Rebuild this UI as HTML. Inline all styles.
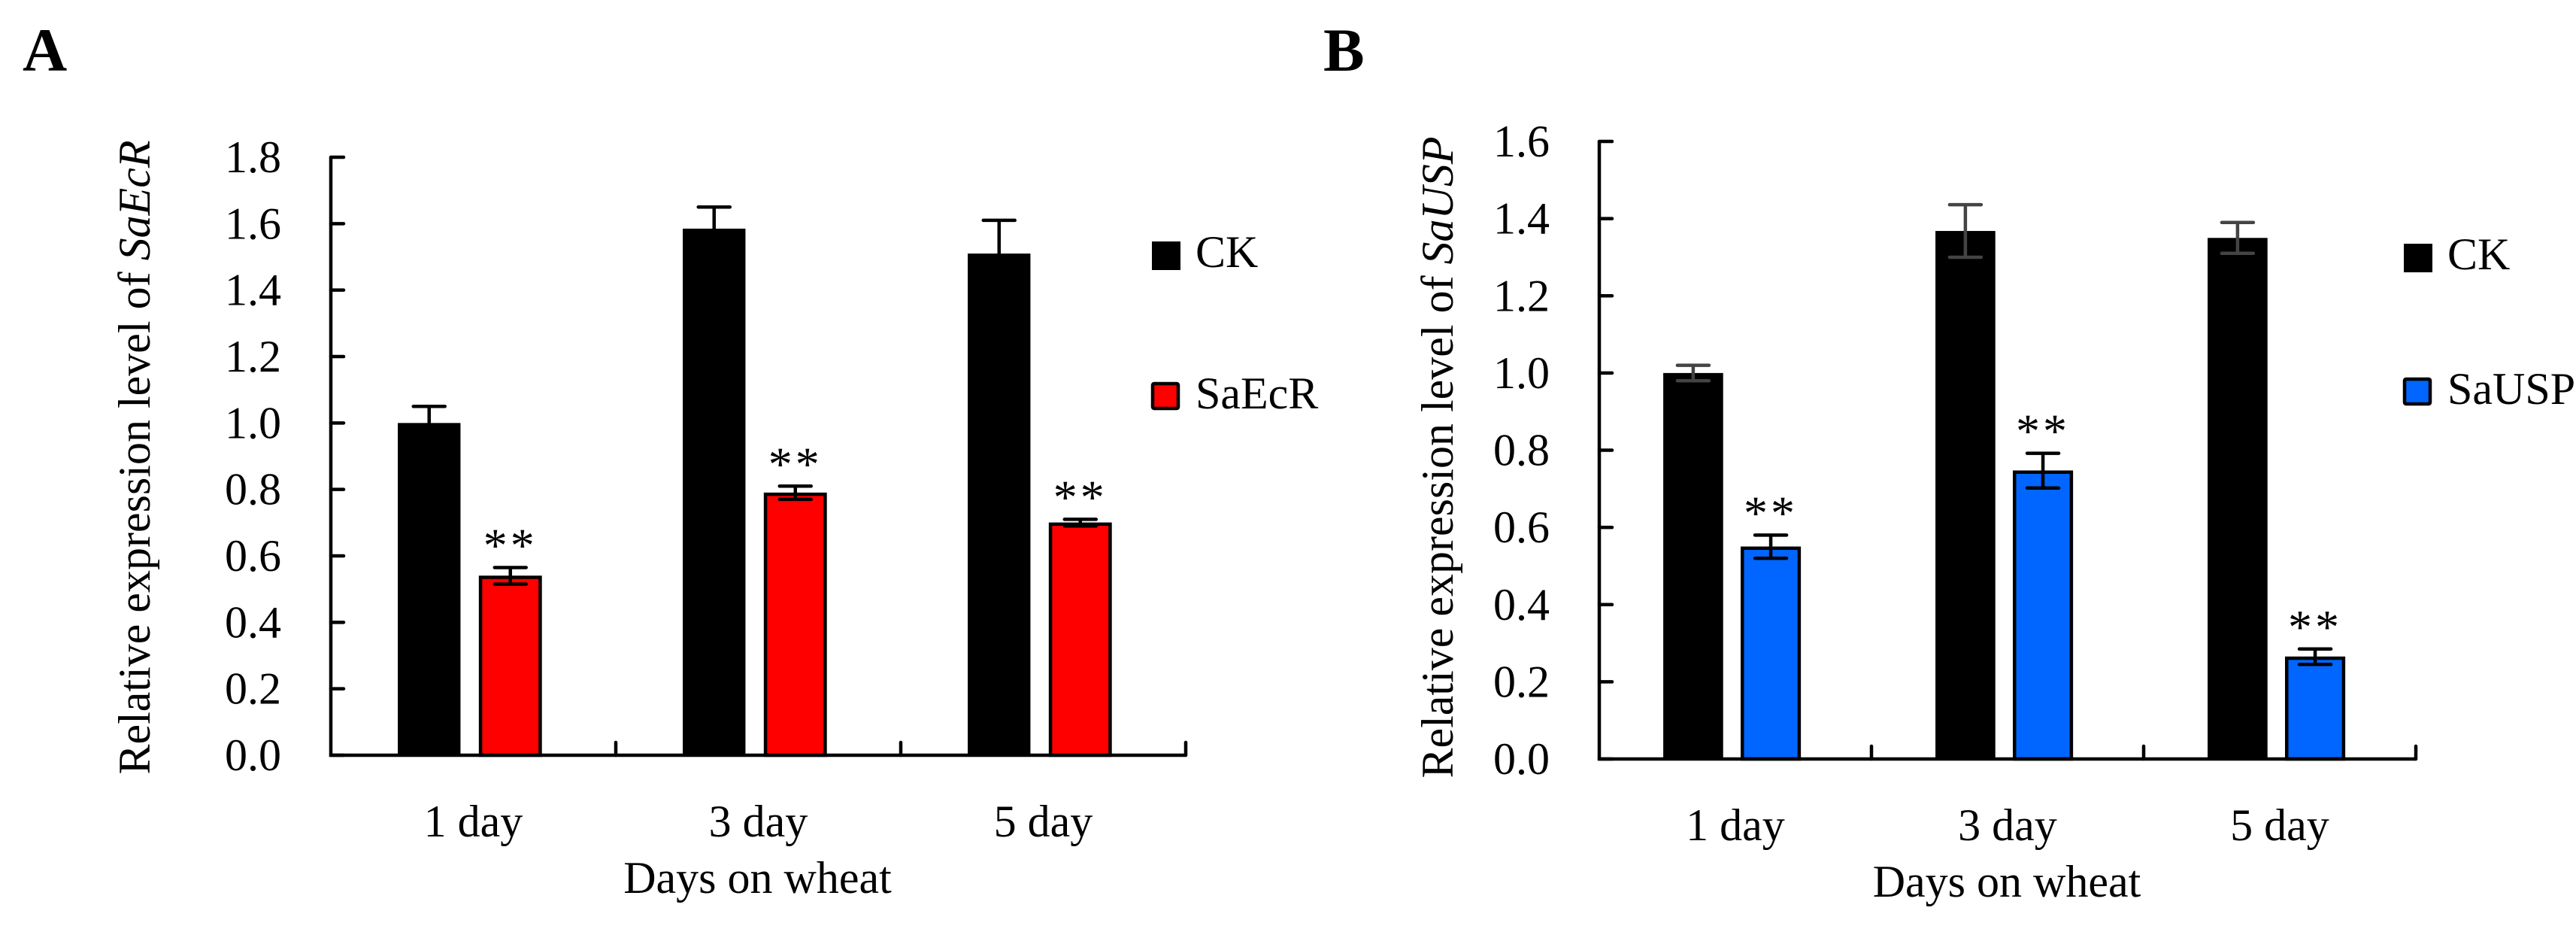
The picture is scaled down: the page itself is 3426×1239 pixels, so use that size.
<!DOCTYPE html>
<html><head><meta charset="utf-8"><style>
html,body{margin:0;padding:0;background:#fff;}
svg{display:block;}
text,tspan{font-family:"Liberation Serif","Times New Roman",serif;}
</style></head><body>
<svg id="fig" width="3426" height="1239" viewBox="0 0 3426 1239" xmlns="http://www.w3.org/2000/svg" font-family="Liberation Serif, serif">
<rect width="3426" height="1239" fill="#fff"/>
<g id="panelA"></g>
<g id="panelB"></g>
</svg>
<script>
const categories = ["1 day", "3 day", "5 day"];
const ckA = [1.0, 1.585, 1.51];
const ckErrA = [0.05, 0.065, 0.10];
const ecrA = [0.54, 0.79, 0.70];
const ecrErrA = [0.025, 0.02, 0.01];
const ticksA = ["0.0","0.2","0.4","0.6","0.8","1.0","1.2","1.4","1.6","1.8"];
const ckB = [1.0, 1.368, 1.35];
const ckErrB = [0.02, 0.068, 0.04];
const uspB = [0.55, 0.747, 0.265];
const uspErrB = [0.03, 0.045, 0.02];
const ticksB = ["0.0","0.2","0.4","0.6","0.8","1.0","1.2","1.4","1.6"];

const NS = "http://www.w3.org/2000/svg";
const FF = "Liberation Serif, Times New Roman, serif";
function mk(parent, tag, attrs, text){
  const e = document.createElementNS(NS, tag);
  for (const k in attrs) e.setAttribute(k, attrs[k]);
  if (tag === "text" || tag === "tspan") e.setAttribute("font-family", FF);
  if (text !== undefined) e.textContent = text;
  parent.appendChild(e);
  return e;
}

function panel(g, cfg){
  const {x0, x1, y0, yTop, ymax, ticks, ck, ckErr, tr, trErr, trColor, ckErrColor, ckTwoSided, gene, letter, letterX, titleX, ofSpace, legX, legY1, legY2, trName} = cfg;
  const ys = v => y0 - (v / ymax) * (y0 - yTop);
  const gw = (x1 - x0) / categories.length;
  const bx = (i, off) => x0 + i * gw + off * gw;
  const bw = 0.22 * gw;

  let t = mk(g, "text", {x: letterX, y: 94, "font-size": 82, "font-weight": "bold"}, letter);
  
  

  t = mk(g, "text", {x: 0, y: 0, "font-size": 60, "text-anchor": "middle", transform: `translate(${titleX},608) rotate(-90)`});
  
  
  mk(t, "tspan", {}, "Relative expression level of" + ofSpace);
  mk(t, "tspan", {"font-style": "italic"}, gene);

  ticks.forEach(lbl => {
    const v = parseFloat(lbl);
    const y = ys(v);
    const tk = mk(g, "line", {x1: x0, x2: x0 + 17, y1: y, y2: y, stroke: "#000", "stroke-width": 4.5, "stroke-linecap": "round"});
    
    
    const tl = mk(g, "text", {x: x0 - 66, y: y + 20, "font-size": 60, "text-anchor": "end"}, lbl);
    
    
  });

  categories.forEach((c, i) => {
    const cx = bx(i, 0.235);
    const ctop = ys(ck[i]);
    const r1 = mk(g, "rect", {x: cx, y: ctop, width: bw, height: y0 - ctop, fill: "#000"});
    
    
    const cm = cx + bw / 2;
    const eTop = ys(ck[i] + ckErr[i]);
    const eBot = ys(ck[i] - ckErr[i]);
    const e1 = mk(g, "path", {d: ckTwoSided ? `M${cm},${eTop}V${eBot}M${cm-21},${eTop}H${cm+21}M${cm-21},${eBot}H${cm+21}` : `M${cm},${eTop}V${ctop}M${cm-21},${eTop}H${cm+21}`, stroke: ckErrColor, "stroke-width": 4.5, "stroke-linecap": "round", fill: "none"});
    
    

    const tx = bx(i, 0.52);
    const ttop = ys(tr[i]);
    const r2 = mk(g, "rect", {x: tx + 2, y: ttop + 2, width: bw - 4, height: y0 - ttop - 2, fill: trColor, stroke: "#000", "stroke-width": 4.5});
    
    
    const tm = tx + bw / 2;
    const tTop = ys(tr[i] + trErr[i]);
    const tBot = ys(tr[i] - trErr[i]);
    const e2 = mk(g, "path", {d: `M${tm},${tTop}V${tBot}M${tm-21},${tTop}H${tm+21}M${tm-21},${tBot}H${tm+21}`, stroke: "#000", "stroke-width": 4.5, "stroke-linecap": "round", fill: "none"});
    
    
    const st = mk(g, "text", {x: tm, y: tTop - 8, "font-size": 64, "text-anchor": "middle", "letter-spacing": 4}, "**");
    
    

    const cl = mk(g, "text", {x: x0 + (i + 0.5) * gw, y: y0 + 108, "font-size": 60, "text-anchor": "middle"}, c);
    
    
    const sx = x0 + (i + 1) * gw;
    const sep = mk(g, "line", {x1: sx, x2: sx, y1: y0, y2: y0 - 17, stroke: "#000", "stroke-width": 4.5, "stroke-linecap": "round"});
    
    
  });

  const ax = mk(g, "path", {d: `M${x0},${yTop}V${y0}H${x1}`, stroke: "#000", "stroke-width": 4.5, fill: "none"});
  
  

  const xt = mk(g, "text", {x: (x0 + x1) / 2 - 1, y: y0 + 183, "font-size": 60, "text-anchor": "middle"}, "Days on wheat");
  
  

  const l1 = mk(g, "rect", {x: legX, y: legY1, width: 38, height: 38, fill: "#000"});
  
  
  const lt1 = mk(g, "text", {x: legX + 58, y: legY1 + 34, "font-size": 60}, "CK");
  
  
  const l2 = mk(g, "rect", {x: legX + 1, y: legY2 + 2, width: 34, height: 33, fill: trColor, stroke: "#000", "stroke-width": 4.5, rx: 2});
  
  
  const lt2 = mk(g, "text", {x: legX + 58, y: legY2 + 35, "font-size": 60}, trName);
  
  
}

panel(document.getElementById("panelA"), {
  x0: 440, x1: 1577, y0: 1004, yTop: 209, ymax: 1.8, ticks: ticksA,
  ck: ckA, ckErr: ckErrA, tr: ecrA, trErr: ecrErrA, trColor: "#ff0000",
  ckErrColor: "#000", ckTwoSided: false, gene: "SaEcR", letter: "A", letterX: 30,
  titleX: 199, ofSpace: "  ", legX: 1532, legY1: 321, legY2: 508, trName: "SaEcR"
});
panel(document.getElementById("panelB"), {
  x0: 2127, x1: 3213, y0: 1009, yTop: 188, ymax: 1.6, ticks: ticksB,
  ck: ckB, ckErr: ckErrB, tr: uspB, trErr: uspErrB, trColor: "#0066ff",
  ckErrColor: "#444", ckTwoSided: true, gene: "SaUSP", letter: "B", letterX: 1760,
  titleX: 1932, ofSpace: " ", legX: 3197, legY1: 324, legY2: 502, trName: "SaUSP"
});
</script>
</body></html>
